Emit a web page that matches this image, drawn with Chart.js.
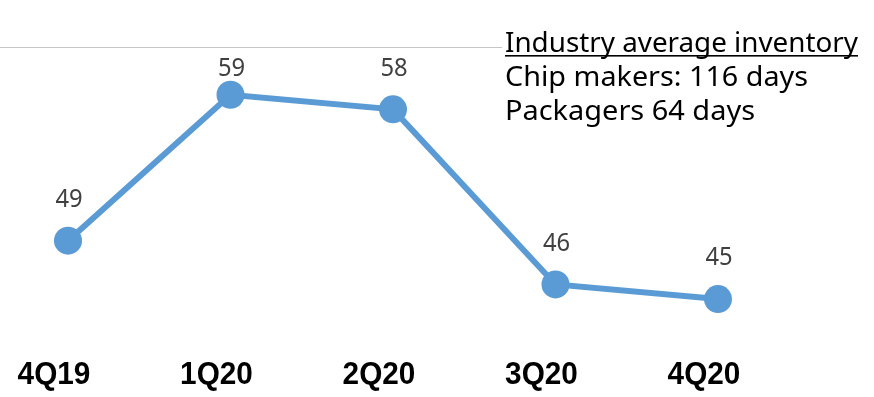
<!DOCTYPE html>
<html>
<head>
<meta charset="utf-8">
<script src="https://cdn.jsdelivr.net/npm/chart.js@4.4.1/dist/chart.umd.min.js"></script>
<style>
    html, body { margin: 0; padding: 0; background: #fff; }
    #wrap { position: relative; width: 874px; height: 397px; }
</style>
</head>
<body>
<div id="wrap"><canvas id="inventoryChart" width="874" height="397"></canvas></div>
<script>
const quarters = ['4Q19', '1Q20', '2Q20', '3Q20', '4Q20'];
const inventoryDays = [49, 59, 58, 46, 45];
const noteLines = ['Industry average inventory', 'Chip makers: 116 days', 'Packagers 64 days'];

const lineBlue = '#5b9bd5';

// draw text squeezed horizontally around its centre/left point
const drawNarrow = (ctx, text, x, y, sx) => {
    ctx.save();
    ctx.translate(x, y);
    ctx.scale(sx, 1);
    ctx.fillText(text, 0, 0);
    ctx.restore();
};

// top rule, value labels, quarter labels and the side note
const decorPlugin = {
    id: 'decor',
    beforeDraw(chart) {
        const ctx = chart.ctx;
        ctx.save();
        ctx.strokeStyle = '#c6c6c6';
        ctx.lineWidth = 1;
        ctx.beginPath();
        ctx.moveTo(0, 47.5);
        ctx.lineTo(502, 47.5);
        ctx.stroke();
        ctx.restore();
    },
    afterDraw(chart) {
        const ctx = chart.ctx;
        const meta = chart.getDatasetMeta(0);
        const xScale = chart.scales.x;
        ctx.save();

        // value labels above points
        ctx.font = '25px "Noto Sans"';
        ctx.fillStyle = '#404040';
        ctx.textAlign = 'center';
        ctx.textBaseline = 'middle';
        meta.data.forEach((pt, i) => {
            const y = Math.max(pt.y - 41, 69);
            drawNarrow(ctx, String(inventoryDays[i]), pt.x + 1, y, 0.95);
        });

        // quarter labels
        ctx.font = 'bold 32px "Liberation Sans"';
        ctx.fillStyle = '#000';
        quarters.forEach((q, i) => {
            const x = xScale.getPixelForValue(i) - 14;
            drawNarrow(ctx, q, x, 375, 0.93);
        });

        // note in the top right
        ctx.textAlign = 'left';
        ctx.textBaseline = 'alphabetic';
        ctx.font = '27px "Noto Sans"';
        const targetWidths = [353, 303, 250];
        const baselines = [52, 86, 120];
        noteLines.forEach((line, i) => {
            const w = ctx.measureText(line).width;
            drawNarrow(ctx, line, 505, baselines[i], targetWidths[i] / w);
        });
        ctx.fillRect(505, 55, 353, 1.6);

        ctx.restore();
    }
};

new Chart(document.getElementById('inventoryChart'), {
    type: 'line',
    data: {
        labels: quarters,
        datasets: [{
            data: inventoryDays,
            borderColor: lineBlue,
            backgroundColor: lineBlue,
            borderWidth: 6,
            pointRadius: 14,
            pointHoverRadius: 14,
            pointBackgroundColor: lineBlue,
            pointBorderWidth: 0,
            tension: 0,
            fill: false
        }]
    },
    options: {
        responsive: false,
        animation: false,
        layout: { padding: { left: 68, right: 156, top: 51, bottom: 25 } },
        plugins: { legend: { display: false }, tooltip: { enabled: false } },
        scales: {
            x: { display: false, offset: false },
            y: { display: false, min: 40, max: 62 }
        }
    },
    plugins: [decorPlugin]
});
</script>
</body>
</html>
